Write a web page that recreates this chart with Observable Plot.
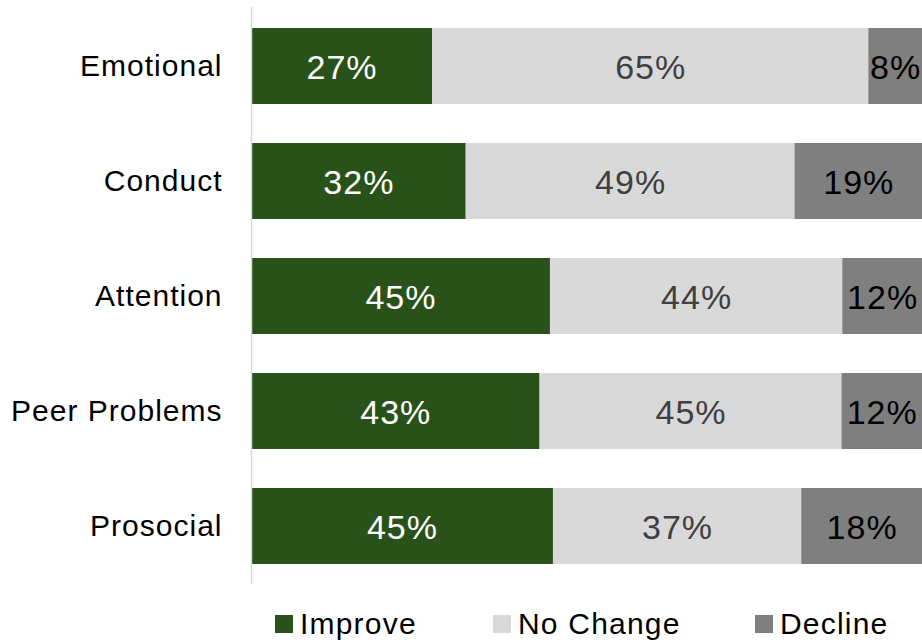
<!DOCTYPE html>
<html>
<head>
<meta charset="utf-8">
<script src="https://cdn.jsdelivr.net/npm/d3@7"></script>
<script src="https://cdn.jsdelivr.net/npm/@observablehq/plot@0.6"></script>
<style>
  html, body { margin: 0; padding: 0; background: #fff; }
  body { width: 922px; height: 643px; overflow: hidden; font-family: "Liberation Sans", Arial, Helvetica, sans-serif; }
  #chart { position: relative; width: 922px; height: 584px; }
  #legend { position: relative; width: 922px; height: 59px; }
  .item { position: absolute; top: 25px; display: flex; align-items: center; font-size: 30px; color: #000; line-height: 1; letter-spacing: 1.2px; }
  .sw { width: 18px; height: 18px; margin-right: 7px; }
  #chart svg text { letter-spacing: 1px; }
</style>
</head>
<body>
<div id="chart"></div>
<div id="legend"></div>
<script>
const categories = ["Emotional", "Conduct", "Attention", "Peer Problems", "Prosocial"];
const series = ["Improve", "No Change", "Decline"];
const improve = [27, 32, 45, 43, 45];
const noChange = [65, 49, 44, 45, 37];
const decline = [8, 19, 12, 12, 18];
const colors = ["#285219", "#d9d9d9", "#7f7f7f"];
const labelColors = ["#ffffff", "#404040", "#000000"];

const valuesBySeries = [improve, noChange, decline];
const data = [];
series.forEach((s, si) => {
  categories.forEach((c, ci) => {
    data.push({category: c, series: s, value: valuesBySeries[si][ci]});
  });
});

const stackOpts = (extra) => Plot.stackX({
  x: "value", y: "category", z: "series", order: series, offset: "normalize", ...extra
});

const chart = Plot.plot({
  width: 922,
  height: 584,
  marginLeft: 251,
  marginRight: 0,
  marginTop: 7,
  marginBottom: 0,
  style: { fontFamily: "\"Liberation Sans\", Arial, Helvetica, sans-serif", background: "#fff" },
  x: { axis: null, domain: [0, 1] },
  y: { domain: categories, paddingInner: 0.342, paddingOuter: 0.169, label: null },
  color: { type: "identity" },
  marks: [
    Plot.barX(data, stackOpts({ fill: d => colors[series.indexOf(d.series)], inset: 0 })),
    Plot.ruleX([0], { stroke: "#d9d9d9", strokeWidth: 1.5 }),
    Plot.text(data, stackOpts({
      text: d => d.value + "%",
      fill: d => labelColors[series.indexOf(d.series)],
      fontSize: 34,
      dy: 2
    })),
    Plot.axisY({ tickSize: 0, tickPadding: 29, fontSize: 30, fill: "#000", label: null })
  ]
});
document.getElementById("chart").appendChild(chart);

const legend = document.getElementById("legend");
const lefts = [275, 493, 755];
series.forEach((s, i) => {
  const item = document.createElement("div");
  item.className = "item";
  item.style.left = lefts[i] + "px";
  const sw = document.createElement("div");
  sw.className = "sw";
  sw.style.background = colors[i];
  const t = document.createElement("span");
  t.textContent = s;
  item.appendChild(sw);
  item.appendChild(t);
  legend.appendChild(item);
});
</script>
</body>
</html>
